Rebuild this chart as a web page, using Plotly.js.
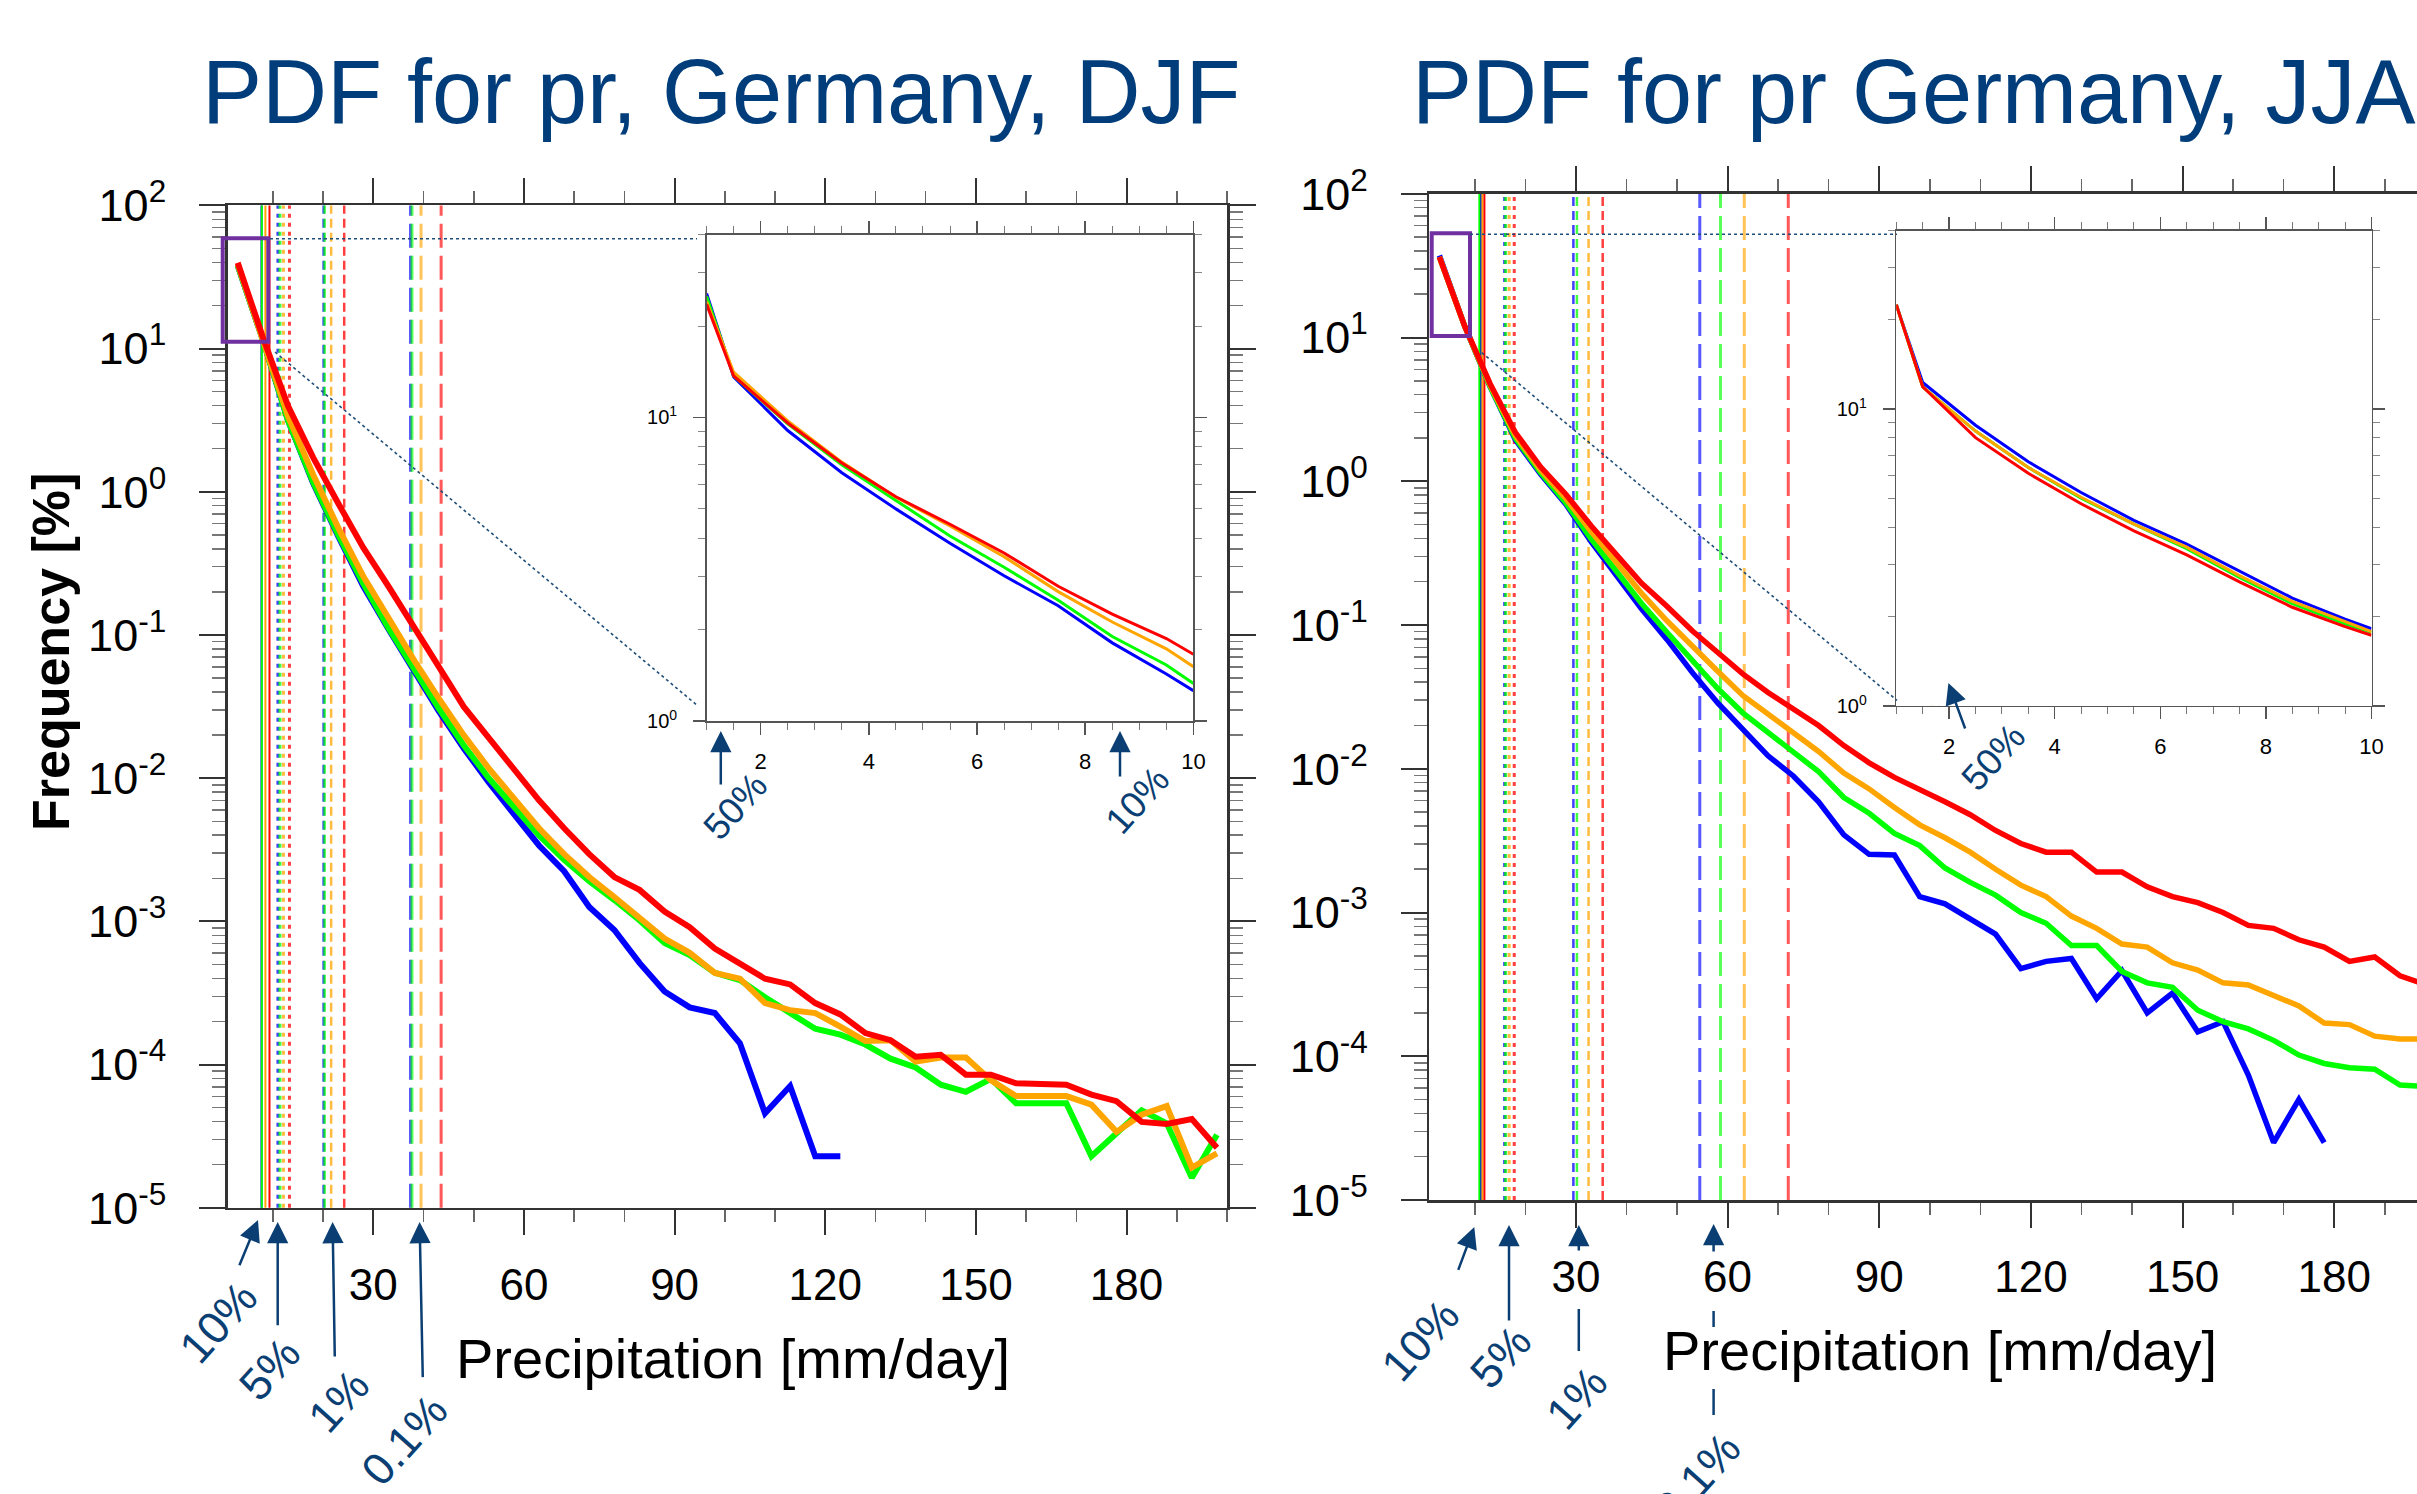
<!DOCTYPE html>
<html><head><meta charset="utf-8">
<script src="https://cdn.plot.ly/plotly-3.0.1.min.js"></script>
<style>html,body{margin:0;padding:0;overflow:hidden;background:#fff}#chart{width:2440px;height:1494px}</style>
</head><body><div id="chart"></div>
<script>
// ---------------- DATA ----------------
const seriesNames = ['blue', 'green', 'orange', 'red'];
const seriesColors = ['#0000ff', '#00ff00', '#ffa500', '#ff0000'];

// main panels: precipitation bins [mm/day]
const precipMain = [3, 8, 13, 18, 23, 28, 33, 38, 43, 48, 53, 58, 63, 68, 73, 78, 83, 88, 93, 98,
  103, 108, 113, 118, 123, 128, 133, 138, 143, 148, 153, 158, 163, 168, 173, 178, 183, 188, 193, 198];

// DJF frequency [%]
const djfBlue = [38.0, 11.5, 3.16, 1.15, 0.490, 0.219, 0.110, 0.0562, 0.0295, 0.0162, 0.00933, 0.00562, 0.00339, 0.00224, 0.00126,
  8.71e-4, 5.13e-4, 3.24e-4, 2.51e-4, 2.29e-4, 1.41e-4, 4.57e-5, 7.08e-5, 2.29e-5, 2.29e-5];
const djfGreen = [38.0, 11.5, 3.16, 1.17, 0.501, 0.229, 0.112, 0.0575, 0.0309, 0.0170, 0.0100, 0.00631, 0.00398, 0.00269, 0.00191,
  0.00141, 0.00102, 7.08e-4, 5.82e-4, 4.37e-4, 3.89e-4, 2.95e-4, 2.29e-4, 1.78e-4, 1.62e-4, 1.38e-4, 1.10e-4, 9.55e-5, 7.24e-5, 6.46e-5,
  7.94e-5, 5.37e-5, 5.37e-5, 5.37e-5, 2.29e-5, 3.31e-5, 4.79e-5, 3.89e-5, 1.62e-5, 3.24e-5];
const djfOrange = [38.9, 11.7, 3.39, 1.32, 0.562, 0.257, 0.129, 0.0676, 0.0363, 0.0200, 0.0117, 0.00724, 0.00447, 0.00295, 0.00204,
  0.00148, 0.00107, 7.59e-4, 6.03e-4, 4.37e-4, 3.98e-4, 2.69e-4, 2.40e-4, 2.29e-4, 1.84e-4, 1.46e-4, 1.48e-4, 1.05e-4, 1.12e-4, 1.12e-4,
  7.76e-5, 6.03e-5, 6.03e-5, 6.03e-5, 5.25e-5, 3.39e-5, 4.47e-5, 5.13e-5, 1.91e-5, 2.40e-5];
const djfRed = [39.8, 12.0, 3.98, 1.74, 0.832, 0.407, 0.219, 0.117, 0.0603, 0.0316, 0.0191, 0.0115, 0.0070, 0.00447, 0.00295,
  0.00204, 0.00166, 0.00117, 9.12e-4, 6.46e-4, 5.13e-4, 3.98e-4, 3.63e-4, 2.69e-4, 2.24e-4, 1.66e-4, 1.48e-4, 1.135e-4, 1.17e-4, 8.51e-5,
  8.51e-5, 7.41e-5, 7.33e-5, 7.24e-5, 6.17e-5, 5.55e-5, 3.98e-5, 3.85e-5, 4.17e-5, 2.63e-5];

// JJA frequency [%]
const jjaBlue = [37.2, 12.0, 4.57, 1.95, 1.12, 0.692, 0.380, 0.219, 0.129, 0.0794, 0.0468, 0.0288, 0.0191, 0.0123, 0.00891,
  0.00589, 0.00347, 0.00254, 0.00251, 0.00129, 0.00115, 9.12e-4, 7.08e-4, 4.07e-4, 4.57e-4, 4.79e-4, 2.51e-4, 3.94e-4, 2.00e-4, 2.75e-4,
  1.48e-4, 1.74e-4, 7.41e-5, 2.51e-5, 5.01e-5, 2.51e-5];
const jjaGreen = [36.3, 12.0, 4.57, 2.00, 1.15, 0.708, 0.398, 0.234, 0.141, 0.0891, 0.0562, 0.0363, 0.0245, 0.0178, 0.0132,
  0.00955, 0.00631, 0.00490, 0.00355, 0.00292, 0.00204, 0.00162, 0.00132, 0.00100, 8.41e-4, 5.89e-4, 5.89e-4, 3.89e-4, 3.24e-4, 3.02e-4,
  2.09e-4, 1.74e-4, 1.55e-4, 1.29e-4, 1.02e-4, 8.91e-5, 8.32e-5, 8.13e-5, 6.31e-5, 6.17e-5];
const jjaOrange = [36.3, 12.0, 4.68, 2.09, 1.20, 0.759, 0.447, 0.269, 0.166, 0.107, 0.0708, 0.0479, 0.0324, 0.0240, 0.0182,
  0.0132, 0.00933, 0.00724, 0.00537, 0.00407, 0.00331, 0.00263, 0.00200, 0.00155, 0.00129, 9.44e-4, 7.76e-4, 6.03e-4, 5.75e-4, 4.47e-4,
  3.98e-4, 3.24e-4, 3.13e-4, 2.63e-4, 2.24e-4, 1.70e-4, 1.66e-4, 1.38e-4, 1.32e-4, 1.32e-4];
const jjaRed = [36.3, 12.0, 4.79, 2.19, 1.26, 0.813, 0.490, 0.305, 0.195, 0.135, 0.0912, 0.0646, 0.0457, 0.0339, 0.0257,
  0.0200, 0.0145, 0.0110, 0.00871, 0.00724, 0.00589, 0.00479, 0.00372, 0.00302, 0.00263, 0.00263, 0.00191, 0.00191, 0.00151, 0.00129,
  0.00117, 0.00100, 8.13e-4, 7.76e-4, 6.46e-4, 5.75e-4, 4.57e-4, 4.90e-4, 3.63e-4, 3.16e-4];

// inset panels (1-10 mm/day)
const precipInset = [1, 1.5, 2.5, 3.5, 4.5, 5.5, 6.5, 7.5, 8.5, 9.5, 10];
const djfInsetBlue = [25.6, 13.6, 9.06, 6.58, 5.00, 3.85, 3.01, 2.40, 1.81, 1.43, 1.26];
const djfInsetGreen = [25.1, 13.7, 9.53, 6.98, 5.33, 4.07, 3.21, 2.50, 1.90, 1.53, 1.33];
const djfInsetOrange = [24.1, 14.1, 9.75, 7.13, 5.46, 4.39, 3.48, 2.67, 2.12, 1.73, 1.51];
const djfInsetRed = [23.6, 13.7, 9.59, 7.08, 5.48, 4.45, 3.58, 2.78, 2.25, 1.87, 1.66];
const jjaInsetBlue = [22.5, 12.3, 8.83, 6.65, 5.24, 4.22, 3.51, 2.85, 2.31, 1.96, 1.82];
const jjaInsetGreen = [22.5, 11.9, 8.44, 6.36, 5.01, 4.10, 3.39, 2.71, 2.21, 1.89, 1.77];
const jjaInsetOrange = [22.5, 11.9, 8.44, 6.36, 5.05, 4.10, 3.43, 2.75, 2.25, 1.92, 1.78];
const jjaInsetRed = [22.5, 11.9, 8.02, 6.08, 4.80, 3.89, 3.23, 2.62, 2.15, 1.85, 1.73];

// percentile thresholds [mm/day], order: blue, green, orange, red
const djfP50 = [1.16, 1.35, 1.54, 1.67];
const djfP10 = [7.73, 7.79, 8.51, 9.32];
const djfP5 = [11.0, 11.4, 12.1, 13.3];
const djfP1 = [20.1, 20.3, 21.6, 24.2];
const djfP01 = [37.4, 37.7, 39.5, 43.5];
const jjaP50 = [1.81, 1.65, 1.67, 1.69];
const jjaP10 = [11.2, 10.9, 11.5, 11.9];
const jjaP5 = [15.9, 16.1, 16.8, 17.8];
const jjaP1 = [29.5, 30.2, 32.5, 35.3];
const jjaP01 = [54.5, 58.6, 63.3, 72.0];

// tick labels
const mainTickVals = [1e-5, 1e-4, 1e-3, 1e-2, 1e-1, 1e0, 1e1, 1e2];
const mainTickText = ['10<sup>-5</sup>', '10<sup>-4</sup>', '10<sup>-3</sup>', '10<sup>-2</sup>', '10<sup>-1</sup>', '10<sup>0</sup>', '10<sup>1</sup>', '10<sup>2</sup>'];
const insetTickVals = [1, 10];
const insetTickText = ['10<sup>0</sup>', '10<sup>1</sup>'];
const titles = ['PDF for pr, Germany, DJF', 'PDF for pr Germany, JJA'];
const xTitle = 'Precipitation [mm/day]';
const yTitle = 'Frequency [%]';
const pctLabels = ['50%', '10%', '5%', '1%', '0.1%'];

// ---------------- LAYOUT HELPERS ----------------
const W = 2440, H = 1494;
const px = v => v / W;
const py = v => 1 - v / H;
const FONT = 'Liberation Sans, Arial, Helvetica, sans-serif';
const NAVY = '#0b3f73';

function curves(x, ys, xa, ya, width) {
  return ys.map((y, i) => ({
    type: 'scatter', mode: 'lines', x: x, y: y, xaxis: xa, yaxis: ya,
    name: seriesNames[i], showlegend: false, hoverinfo: 'skip',
    line: {color: seriesColors[i], width: width}
  }));
}

const traces = [].concat(
  curves(precipMain, [djfBlue, djfGreen, djfOrange, djfRed], 'x', 'y', 6),
  curves(precipMain, [jjaBlue, jjaGreen, jjaOrange, jjaRed], 'x2', 'y2', 5.5),
  curves(precipInset, [djfInsetBlue, djfInsetGreen, djfInsetOrange, djfInsetRed], 'x3', 'y3', 3),
  curves(precipInset, [jjaInsetBlue, jjaInsetGreen, jjaInsetOrange, jjaInsetRed], 'x4', 'y4', 3)
);

const sty = {
  p10: {dash: 'solid', width: 2, opacity: 1},
  p5: {dash: '4px,5px', width: 3, opacity: 0.75},
  p1: {dash: '9px,5px', width: 2.5, opacity: 0.75},
  p01: {dash: '24px,8px', width: 3, opacity: 0.65},
  i50: {dash: '6px,4px', width: 1.5, opacity: 0.8},
  i10: {dash: 'solid', width: 1.5, opacity: 0.9}
};
function pctLines(vals, xa, ya, s) {
  return vals.map((v, i) => ({
    type: 'line', xref: xa, yref: ya + ' domain', x0: v, x1: v, y0: 0, y1: 1, layer: 'below',
    opacity: s.opacity, line: {color: seriesColors[i], width: s.width, dash: s.dash}
  }));
}
function pline(x0, y0, x1, y1, color, width, dash) {
  return {type: 'line', xref: 'paper', yref: 'paper', x0: px(x0), y0: py(y0), x1: px(x1), y1: py(y1),
    layer: 'above', line: {color: color, width: width, dash: dash || 'solid'}};
}
function prect(x0, y0, x1, y1) {
  return {type: 'rect', xref: 'paper', yref: 'paper', x0: px(x0), y0: py(y0), x1: px(x1), y1: py(y1),
    layer: 'above', line: {color: '#7030a0', width: 4}};
}

const shapes = [].concat(
  pctLines(djfP10, 'x', 'y', sty.p10), pctLines(djfP5, 'x', 'y', sty.p5),
  pctLines(djfP1, 'x', 'y', sty.p1), pctLines(djfP01, 'x', 'y', sty.p01),
  pctLines(jjaP10, 'x2', 'y2', sty.p10), pctLines(jjaP5, 'x2', 'y2', sty.p5),
  pctLines(jjaP1, 'x2', 'y2', sty.p1), pctLines(jjaP01, 'x2', 'y2', sty.p01),
  pctLines(djfP50, 'x3', 'y3', sty.i50), pctLines(djfP10, 'x3', 'y3', sty.i10),
  pctLines(jjaP50, 'x4', 'y4', sty.i50),
  [
    prect(222.7, 238.3, 268.3, 341.8),
    prect(1431.7, 233.3, 1470, 335.9),
    pline(270, 238.8, 697, 238.8, '#1f4e79', 1.6, 'dot'),
    pline(275, 352, 698, 706, '#1f4e79', 1.6, 'dot'),
    pline(1470, 234.3, 1897, 234.3, '#1f4e79', 1.6, 'dot'),
    pline(1481.7, 352.6, 1897, 700.4, '#1f4e79', 1.6, 'dot'),
    pline(1578.8, 1309, 1578.8, 1351, NAVY, 2.5),
    pline(1713.6, 1311, 1713.6, 1327, NAVY, 2.5),
    pline(1713.6, 1389, 1713.6, 1415, NAVY, 2.5)
  ]
);

function arrow(tipX, tipY, tailX, tailY) {
  return {xref: 'paper', yref: 'paper', x: px(tipX), y: py(tipY), ax: tailX - tipX, ay: tailY - tipY,
    axref: 'pixel', ayref: 'pixel', text: '', showarrow: true, arrowhead: 2, arrowsize: 1.7,
    arrowwidth: 2.5, arrowcolor: NAVY, standoff: 0, startstandoff: 0};
}
function label(text, x, y, size, angle) {
  return {xref: 'paper', yref: 'paper', x: px(x), y: py(y), text: text, showarrow: false,
    xanchor: 'center', yanchor: 'middle', textangle: angle, font: {family: FONT, size: size, color: NAVY}};
}

const annotations = [
  {xref: 'paper', yref: 'paper', x: px(721), y: py(92), text: titles[0], showarrow: false, xanchor: 'center', yanchor: 'middle',
    font: {family: FONT, size: 90, color: '#003d7a'}},
  {xref: 'paper', yref: 'paper', x: px(1410), y: py(92), text: titles[1], showarrow: false, xanchor: 'left', yanchor: 'middle',
    font: {family: FONT, size: 90, color: '#003d7a'}},
  {xref: 'paper', yref: 'paper', x: px(51), y: py(652), text: '<b>' + yTitle + '</b>', showarrow: false, textangle: -90,
    xanchor: 'center', yanchor: 'middle', font: {family: FONT, size: 52, color: '#000'}},
  {xref: 'paper', yref: 'paper', x: px(733), y: py(1358), text: xTitle, showarrow: false, xanchor: 'center', yanchor: 'middle',
    font: {family: FONT, size: 56, color: '#000'}},
  {xref: 'paper', yref: 'paper', x: px(1940), y: py(1350), text: xTitle, showarrow: false, xanchor: 'center', yanchor: 'middle',
    font: {family: FONT, size: 56, color: '#000'}},
  // DJF main
  arrow(258, 1220, 238.8, 1266.7), label(pctLabels[1], 218, 1322, 45, -48),
  arrow(277.7, 1222, 277.7, 1326.8), label(pctLabels[2], 269, 1369, 45, -48),
  arrow(332.6, 1222, 334.8, 1358), label(pctLabels[3], 338, 1401, 45, -48),
  arrow(419.6, 1222, 422.8, 1378.6), label(pctLabels[4], 404, 1440, 45, -48),
  // DJF inset
  arrow(720.8, 731, 720.8, 786), label(pctLabels[0], 735, 806, 37, -48),
  arrow(1120, 731, 1120, 778), label(pctLabels[1], 1137, 800, 37, -48),
  // JJA main
  arrow(1474.3, 1227, 1457.7, 1271.4), label(pctLabels[1], 1420, 1340, 45, -48),
  arrow(1509, 1225, 1509, 1322), label(pctLabels[2], 1500, 1357, 45, -48),
  arrow(1578.8, 1225, 1578.8, 1252), label(pctLabels[3], 1576, 1398, 45, -48),
  arrow(1713.6, 1224, 1713.6, 1253), label(pctLabels[4], 1697, 1478, 45, -48),
  // JJA inset
  arrow(1948.4, 683, 1965.7, 730), label(pctLabels[0], 1993, 757, 37, -48)
];

function mainX(domain, anchor) {
  return {domain: domain, anchor: anchor, range: [1, 200], tick0: 0, dtick: 30, ticks: 'outside', ticklen: 25,
    tickwidth: 2, tickcolor: '#333', showline: true, linewidth: 2.5, linecolor: '#333', mirror: 'ticks',
    showgrid: false, zeroline: false, automargin: false, ticklabelstandoff: 12,
    tickfont: {family: FONT, size: 44, color: '#000'},
    minor: {dtick: 10, tick0: 0, ticks: 'outside', ticklen: 12, tickwidth: 1.5, tickcolor: '#666'}};
}
const mainMinor = [];
for (let e = -5; e < 2; e++) for (let k = 2; k <= 9; k++) mainMinor.push(k * Math.pow(10, e));
function mainY(domain, anchor) {
  return {domain: domain, anchor: anchor, type: 'log', range: [-5, 2], tickmode: 'array', tickvals: mainTickVals,
    ticktext: mainTickText, ticks: 'outside', ticklen: 26, tickwidth: 2, tickcolor: '#333', showline: true,
    linewidth: 2.5, linecolor: '#333', mirror: 'ticks', showgrid: false, zeroline: false, automargin: false,
    ticklabelstandoff: 24, tickfont: {family: FONT, size: 45, color: '#000'},
    minor: {tickmode: 'array', tickvals: mainMinor, ticks: 'outside', ticklen: 13, tickwidth: 1.5, tickcolor: '#777'}};
}
function insetX(domain, anchor) {
  return {domain: domain, anchor: anchor, range: [1, 10], tick0: 0, dtick: 2, ticks: 'outside', ticklen: 12,
    tickwidth: 1.5, tickcolor: '#555', showline: true, linewidth: 1.5, linecolor: '#555', mirror: 'ticks',
    showgrid: false, zeroline: false, automargin: false, ticklabelstandoff: 8,
    tickfont: {family: FONT, size: 22, color: '#000'},
    minor: {dtick: 0.5, tick0: 0, ticks: 'outside', ticklen: 7, tickwidth: 1, tickcolor: '#777'}};
}
const insetMinor = [2, 3, 4, 5, 6, 7, 8, 9, 20, 30, 40];
function insetY(domain, anchor) {
  return {domain: domain, anchor: anchor, type: 'log', range: [0, 1.602], tickmode: 'array', tickvals: insetTickVals,
    ticktext: insetTickText, ticks: 'outside', ticklen: 12, tickwidth: 1.5, tickcolor: '#555', showline: true,
    linewidth: 1.5, linecolor: '#555', mirror: 'ticks', showgrid: false, zeroline: false, automargin: false,
    ticklabelstandoff: 12, tickfont: {family: FONT, size: 20, color: '#000'},
    minor: {tickmode: 'array', tickvals: insetMinor, ticks: 'outside', ticklen: 7, tickwidth: 1, tickcolor: '#888'}};
}

const layout = {
  width: W, height: H, margin: {l: 0, r: 0, t: 0, b: 0, pad: 0},
  paper_bgcolor: '#fff', plot_bgcolor: '#fff', showlegend: false,
  font: {family: FONT},
  xaxis: mainX([px(227.7), px(1227)], 'y'),
  yaxis: mainY([py(1207.8), py(205.4)], 'x'),
  xaxis2: mainX([px(1429.3), px(2435.4)], 'y2'),
  yaxis2: mainY([py(1200), py(193.75)], 'x2'),
  xaxis3: insetX([px(706.6), px(1193.4)], 'y3'),
  yaxis3: insetY([py(721.1), py(234.7)], 'x3'),
  xaxis4: insetX([px(1896.3), px(2371.5)], 'y4'),
  yaxis4: insetY([py(705.9), py(230.6)], 'x4'),
  shapes: shapes,
  annotations: annotations
};

Plotly.newPlot('chart', traces, layout, {displayModeBar: false, staticPlot: true});
</script></body></html>
